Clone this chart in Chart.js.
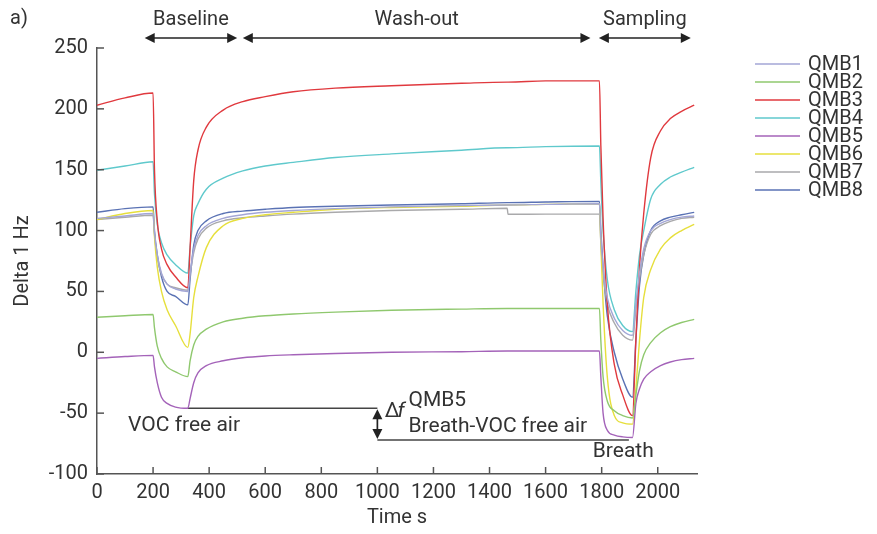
<!DOCTYPE html>
<html>
<head>
<meta charset="utf-8">
<script src="https://cdn.jsdelivr.net/npm/chart.js@4.4.1/dist/chart.umd.min.js"></script>
<style>
  html, body { margin: 0; padding: 0; background: #fff; }
  #wrap { width: 877px; height: 534px; }
</style>
</head>
<body>
<div id="wrap"><canvas id="qmbChart" width="877" height="534"></canvas></div>
<script>
// time points (s), shared by all sensors
var time = [0, 100, 200, 205, 215, 230, 250, 280, 324, 332, 345, 360, 390, 450, 520, 600, 700, 850, 1050, 1300, 1463, 1466, 1600, 1792, 1797, 1805, 1820, 1845, 1875, 1910, 1922, 1935, 1950, 1975, 2010, 2045, 2085, 2130];

var QMB1 = [110, 112, 114, 98, 80, 65, 56, 52, 50, 65, 85, 96, 104, 110, 113, 115, 116.5, 118, 119.5, 120.5, 121, 121, 121.5, 122, 95, 70, 45, 28, 18, 14, 40, 65, 85, 100, 106, 109, 111, 112];
var QMB2 = [28.8, 30, 31, 20, 5, -5, -12, -16, -20, -7, 6, 13, 19, 25, 28, 30, 31.5, 33, 34.5, 35.5, 36, 36, 36, 36, 10, -20, -40, -48, -52, -54, -35, -15, -2, 8, 16, 21, 24.5, 27];
var QMB3 = [203, 209, 213, 150, 108, 85, 72, 62, 53, 86, 141, 166, 185, 199, 206, 210, 214, 217, 219, 221, 222, 222, 223, 223, 170, 110, 40, -10, -35, -52, 10, 70, 114, 160, 182, 192, 198, 203];
var QMB4 = [149.5, 153, 156.5, 130, 105, 90, 80, 72, 65, 86, 112, 122, 134, 143, 149, 153, 156, 160, 163, 166, 168, 168, 169, 169.5, 140, 100, 60, 35, 22, 17, 50, 80, 100, 126, 138, 144, 148, 152];
var QMB5 = [-5, -3.5, -2.5, -12, -25, -37, -42, -45, -46, -38, -25, -17, -11, -7, -4.5, -3, -2, -1, 0, 0.5, 1, 1, 1, 1, -20, -50, -64, -68, -69.5, -70, -42, -30, -22, -16, -11, -8, -6, -5];
var QMB6 = [109, 114, 116.5, 95, 70, 50, 35, 22, 4, 15, 45, 62, 86, 104, 110, 113, 115, 117.5, 119, 120, 121, 121, 121.5, 122, 90, 40, -20, -52, -58, -59, -30, 10, 45, 68, 85, 94, 100, 105];
var QMB7 = [109, 111, 112.6, 97, 78, 64, 56, 53, 51, 64, 82, 93, 102, 108, 110.5, 112, 113.5, 115, 116.5, 117.5, 118.3, 113.4, 113.5, 113.5, 90, 65, 40, 24, 14, 10, 35, 60, 80, 97, 104, 107.5, 110, 111];
var QMB8 = [115, 118, 119.5, 100, 80, 62, 50, 46, 39, 60, 88, 100, 108, 114, 116, 117.5, 119, 120, 121, 122, 123, 123, 123.5, 124, 100, 70, 30, 0, -22, -37, 10, 55, 80, 100, 108, 111, 113, 115];

var names = ['QMB1', 'QMB2', 'QMB3', 'QMB4', 'QMB5', 'QMB6', 'QMB7', 'QMB8'];
var colors = ['#a3a6d6', '#8fc86e', '#e0393e', '#5fc9cc', '#a463b9', '#e6df3c', '#a9a9ab', '#5a72b4'];

// QMB5 reference levels for the delta-f annotation
var vocFreeLine = [[324, -46], [1000, -46]];
var breathLine = [[1000, -72], [1897, -72]];

// phase arrows above the plot
var phases = [['Baseline', 170, 500], ['Wash-out', 520, 1760], ['Sampling', 1790, 2118]];

var FONT = "Roboto, 'DejaVu Sans', sans-serif";
var INK = '#333333';

function pts(ys) {
    return ys.map(function (v, i) { return { x: time[i], y: v }; });
}

var sets = names.map(function (n, i) {
    return {
        label: n,
        data: pts([QMB1, QMB2, QMB3, QMB4, QMB5, QMB6, QMB7, QMB8][i]),
        borderColor: colors[i],
        backgroundColor: colors[i],
        borderWidth: 1.4,
        pointRadius: 0,
        cubicInterpolationMode: 'monotone',
        fill: false
    };
});
[vocFreeLine, breathLine].forEach(function (l) {
    sets.push({
        label: '',
        data: l.map(function (p) { return { x: p[0], y: p[1] }; }),
        borderColor: '#444',
        borderWidth: 1.5,
        pointRadius: 0,
        tension: 0,
        fill: false
    });
});

function head(ctx, x, y, ang) {
    var L = 10, W = 5;
    ctx.save();
    ctx.translate(x, y);
    ctx.rotate(ang);
    ctx.beginPath();
    ctx.moveTo(0, 0);
    ctx.lineTo(-L, -W);
    ctx.lineTo(-L, W);
    ctx.closePath();
    ctx.fill();
    ctx.restore();
}

var extras = {
    id: 'extras',
    afterDraw: function (chart) {
        var ctx = chart.ctx, x = chart.scales.x, y = chart.scales.y, ca = chart.chartArea;
        ctx.save();
        // inside ticks
        ctx.strokeStyle = '#555';
        ctx.lineWidth = 1.5;
        x.ticks.forEach(function (t) {
            var px = x.getPixelForValue(t.value);
            ctx.beginPath(); ctx.moveTo(px, ca.bottom); ctx.lineTo(px, ca.bottom - 7); ctx.stroke();
        });
        y.ticks.forEach(function (t) {
            var py = y.getPixelForValue(t.value);
            ctx.beginPath(); ctx.moveTo(ca.left, py); ctx.lineTo(ca.left + 7, py); ctx.stroke();
        });

        ctx.fillStyle = INK;
        ctx.textBaseline = 'middle';
        ctx.font = '20px ' + FONT;
        ctx.textAlign = 'left';
        ctx.fillText('a)', 10, 19);

        // phase arrows
        ctx.strokeStyle = '#222';
        ctx.fillStyle = '#222';
        ctx.lineWidth = 1.7;
        phases.forEach(function (p) {
            var a = x.getPixelForValue(p[1]), b = x.getPixelForValue(p[2]), ay = 38;
            ctx.beginPath(); ctx.moveTo(a + 4, ay); ctx.lineTo(b - 4, ay); ctx.stroke();
            head(ctx, a, ay, Math.PI);
            head(ctx, b, ay, 0);
            ctx.fillStyle = INK;
            ctx.textAlign = 'center';
            ctx.fillText(p[0], (a + b) / 2, 20);
            ctx.fillStyle = '#222';
        });

        // delta f arrow
        var fx = x.getPixelForValue(1000), f1 = y.getPixelForValue(-46), f2 = y.getPixelForValue(-72);
        ctx.beginPath(); ctx.moveTo(fx, f1 + 4); ctx.lineTo(fx, f2 - 4); ctx.stroke();
        head(ctx, fx, f1 + 1, -Math.PI / 2);
        head(ctx, fx, f2 - 1, Math.PI / 2);

        ctx.fillStyle = INK;
        ctx.textAlign = 'left';
        ctx.font = '21px ' + FONT;
        ctx.fillText('VOC free air', x.getPixelForValue(111), y.getPixelForValue(-60));
        ctx.fillText('\u0394', x.getPixelForValue(1026), y.getPixelForValue(-49));
        ctx.font = 'italic 21px ' + FONT;
        ctx.fillText('f', x.getPixelForValue(1072), y.getPixelForValue(-49));
        ctx.font = '21px ' + FONT;
        ctx.fillText('QMB5', x.getPixelForValue(1111), y.getPixelForValue(-39.5));
        ctx.fillText('Breath-VOC free air', x.getPixelForValue(1111), y.getPixelForValue(-61));
        ctx.textAlign = 'center';
        ctx.fillText('Breath', x.getPixelForValue(1877), y.getPixelForValue(-82));

        // legend
        ctx.textAlign = 'left';
        ctx.font = '20px ' + FONT;
        names.forEach(function (n, i) {
            var ly = 64 + 18 * i;
            ctx.strokeStyle = colors[i];
            ctx.lineWidth = 1.6;
            ctx.beginPath(); ctx.moveTo(755, ly); ctx.lineTo(800, ly); ctx.stroke();
            ctx.fillStyle = INK;
            ctx.fillText(n, 808, ly + 1);
        });
        ctx.restore();
    }
};

var cntxt = document.getElementById('qmbChart');
var myChart = new Chart(cntxt, {
    type: 'line',
    data: { datasets: sets },
    plugins: [extras],
    options: {
        responsive: false,
        animation: false,
        layout: { padding: { top: 48, right: 180, left: 0, bottom: 0 } },
        plugins: { legend: { display: false }, tooltip: { enabled: false } },
        scales: {
            x: {
                type: 'linear',
                min: 0,
                max: 2140,
                grid: { display: false, drawTicks: false },
                border: { display: true, color: '#555', width: 1.5 },
                ticks: {
                    stepSize: 200, includeBounds: false, maxRotation: 0, padding: 7, color: INK,
                    font: { family: FONT, size: 20 },
                    callback: function (v) { return String(v); }
                },
                title: { display: true, text: 'Time s', color: INK, font: { family: FONT, size: 20 }, padding: { top: 6 } },
                afterFit: function (s) { s.height = 60; }
            },
            y: {
                min: -100,
                max: 250,
                grid: { display: false, drawTicks: false },
                border: { display: true, color: '#555', width: 1.5 },
                ticks: { stepSize: 50, padding: 9, color: INK, font: { family: FONT, size: 20 } },
                title: { display: true, text: 'Delta 1 Hz', color: INK, font: { family: FONT, size: 20 }, padding: { top: 11, bottom: 0 } },
                afterFit: function (s) { s.width = 97; }
            }
        }
    }
});
</script>
</body>
</html>
